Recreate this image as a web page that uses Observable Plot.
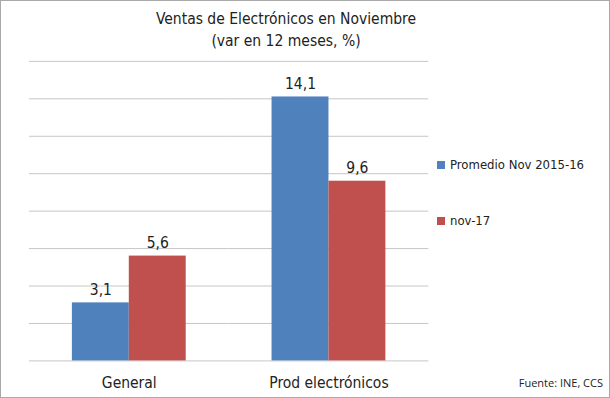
<!DOCTYPE html>
<html>
<head>
<meta charset="utf-8">
<script src="https://cdn.jsdelivr.net/npm/d3@7"></script>
<script src="https://cdn.jsdelivr.net/npm/@observablehq/plot@0.6"></script>
<style>
  html, body { margin: 0; padding: 0; background: #fff; }
  #frame { position: relative; width: 610px; height: 398px; box-sizing: border-box; border: 1px solid #a9a9a9; overflow: hidden;
    font-family: "Liberation Sans Narrow", "DejaVu Sans Condensed", Roboto, sans-serif; color: #222; }
  #title { position: absolute; left: 0; width: 570px; top: 7px; text-align: center; font-size: 15.5px; line-height: 22px; }
  #chart { position: absolute; left: -1px; top: -1px; }
  .leg { position: absolute; left: 436px; font-size: 13px; display: flex; align-items: center; }
  .sw { width: 8px; height: 8px; margin-right: 5px; }
  #src { position: absolute; right: 6px; top: 374px; font-family: "Open Sans", "Liberation Sans", sans-serif; font-size: 11px; color: #222; }
</style>
</head>
<body>
<div id="frame">
  <div id="chart"></div>
  <div id="title">Ventas de Electrónicos en Noviembre<br>(var en 12 meses, %)</div>
  <div id="legend"></div>
  <div id="src">Fuente: INE, CCS</div>
</div>
<script>
const categories = ["General", "Prod electrónicos"];
const seriesNames = ["Promedio Nov 2015-16", "nov-17"];
const promedio = [3.1, 14.1];
const nov17 = [5.6, 9.6];
const colors = ["#4f81bd", "#c0504d"];
const gridTicks = [0, 2, 4, 6, 8, 10, 12, 14, 16];

const data = [];
categories.forEach((c, i) => {
  data.push({category: c, series: seriesNames[0], value: promedio[i]});
  data.push({category: c, series: seriesNames[1], value: nov17[i]});
});
const fmt = v => v.toFixed(1).replace(".", ",");

const chart = Plot.plot({
  width: 610,
  height: 398,
  marginTop: 61,
  marginBottom: 37,
  marginLeft: 29,
  marginRight: 181,
  style: {fontFamily: '"Liberation Sans Narrow", "DejaVu Sans Condensed", Roboto, sans-serif', fontSize: "15px", color: "#222", background: "transparent"},
  fx: {domain: categories, padding: 0, label: null, axis: null},
  x: {domain: seriesNames, paddingInner: 0, paddingOuter: 0.754, axis: null},
  y: {domain: [0, 16], axis: null},
  color: {domain: seriesNames, range: colors},
  marks: [
    Plot.ruleY(gridTicks, {stroke: "#c6c6c6", strokeWidth: 1}),
    Plot.barY(data, {fx: "category", x: "series", y: "value", fill: "series", inset: 0}),
    Plot.text(data, {fx: "category", x: "series", y: "value", text: d => fmt(d.value), dy: -13, fontSize: 15.5, fill: "#222"}),
    Plot.axisFx({anchor: "bottom", tickSize: 0, tickPadding: 16, fontSize: 15.5, label: null, fill: "#222"})
  ]
});
document.getElementById("chart").appendChild(chart);

const legend = document.getElementById("legend");
const legY = [156, 212];
seriesNames.forEach((s, i) => {
  const d = document.createElement("div");
  d.className = "leg";
  d.style.top = legY[i] + "px";
  d.innerHTML = `<span class="sw" style="background:${colors[i]}"></span><span>${s}</span>`;
  legend.appendChild(d);
});
</script>
</body>
</html>
